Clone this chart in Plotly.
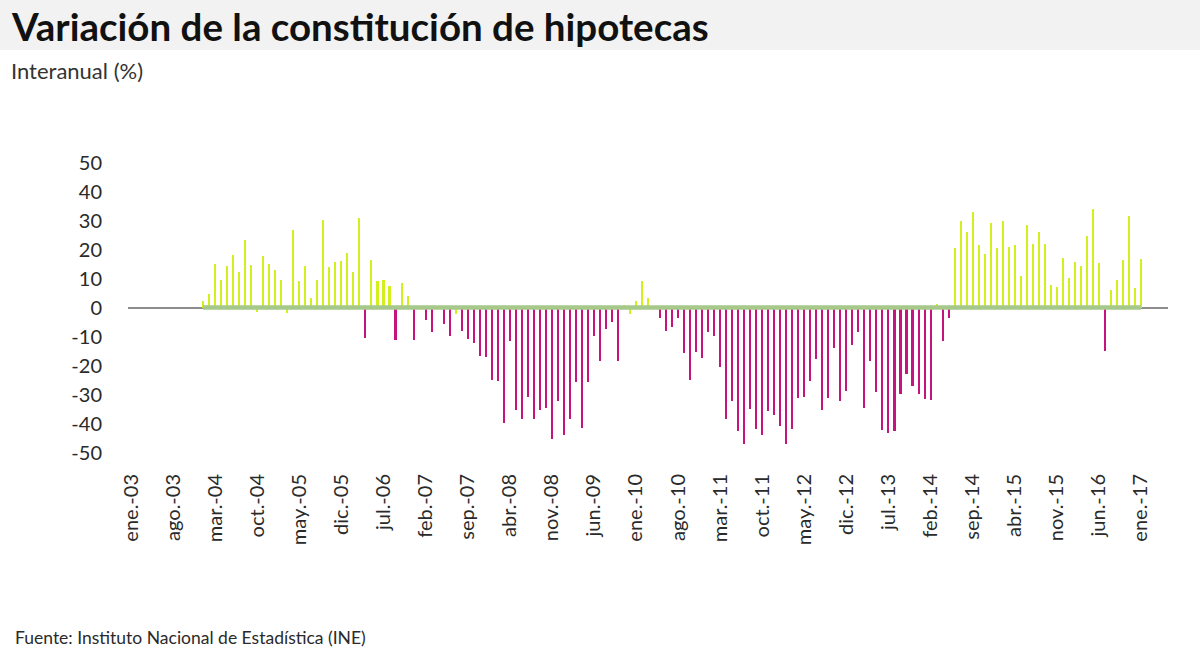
import plotly.graph_objects as go

# ---------------- data ----------------
tick_labels = ["ene.-03", "ago.-03", "mar.-04", "oct.-04", "may.-05", "dic.-05",
               "jul.-06", "feb.-07", "sep.-07", "abr.-08", "nov.-08", "jun.-09",
               "ene.-10", "ago.-10", "mar.-11", "oct.-11", "may.-12", "dic.-12",
               "jul.-13", "feb.-14", "sep.-14", "abr.-15", "nov.-15", "jun.-16",
               "ene.-17"]
tick_step_months = 7
y_tick_values = [50, 40, 30, 20, 10, 0, -10, -20, -30, -40, -50]
y_tick_labels = ["50", "40", "30", "20", "10", "0", "-10", "-20", "-30", "-40", "-50"]

first_month_index = 12  # ene.-04, counted in months from ene.-03
variacion = [
    2.2, 4.5, 15.0, 9.6, 14.2, 18.2, 12.3, 23.3, 14.7, -1.4,
    17.6, 15.0, 13.0, 9.6, -1.8, 26.8, 9.0, 14.4, 3.4, 9.4,
    30.3, 14.0, 15.6, 16.2, 18.8, 12.4, 30.7, -10.5, 16.4, 9.0,
    9.6, 7.3, -11.2, 8.5, 3.8, -11.2,
    0.0, -4.4, -8.5, 0.0, -5.7, -9.7, -2.3, -8.0, -10.9, -12.3,
    -16.6, -17.2, -24.9, -25.3, -39.7, -11.7, -35.2, -38.4, -30.7, -38.4,
    -35.2, -34.6, -45.2, -32.4, -44.1, -38.4, -25.8, -41.6, -25.8, -9.8,
    -18.3, -7.4, -4.9, -18.3, 1.0, -2.4, 2.2, 9.0, 3.3, 0.0,
    -3.5, -8.1, -6.7, -3.5, -15.7, -24.9, -15.3, -17.5, -8.3, -9.8,
    -20.6, -38.4, -32.4, -42.7, -47.2, -34.9, -42.0, -43.8, -35.8, -37.2,
    -41.0, -47.0, -42.0, -31.3, -30.7, -25.4, -17.7, -35.4, -31.3, -13.8,
    -32.1, -28.7, -13.0, -8.4, -34.7, -18.5, -29.2, -42.2, -43.3, -42.5,
    -29.8, -22.9, -27.2, -29.8, -31.5, -31.8, 1.2, -11.4, -3.5, 20.5,
    30.0, 25.9, 32.9, 21.4, 18.6, 29.3, 20.5, 30.0, 20.8, 21.6,
    11.0, 28.5, 22.0, 26.0, 22.0, 7.6, 7.0, 17.1, 10.2, 15.6,
    14.4, 24.5, 33.9, 15.2, -15.0, 6.1, 9.6, 16.4, 31.7, 6.8,
    16.7,
]

# ---------------- style ----------------
W, H = 1200, 672
ML, MR, MT, MB = 128, 32, 148, 205
COL_POS = "#d4ef1e"
COL_NEG = "#c7137d"
COL_BAND = "#a6c98b"
FONT = "Lato, 'Open Sans', sans-serif"

x_vals = [first_month_index + i for i in range(len(variacion))]
bar_colors = [COL_POS if v > -3 else COL_NEG for v in variacion]
tick_vals = [i * tick_step_months for i in range(len(tick_labels))]

pw = W - ML - MR
ph = H - MT - MB


def xp(px):
    return (px - ML) / pw


def yp(py):
    return (H - MB - py) / ph


fig = go.Figure()
fig.add_trace(go.Bar(
    x=x_vals, y=variacion, width=0.34,
    marker=dict(color=bar_colors, line=dict(width=0)),
    hovertemplate="%{y:.1f}%<extra></extra>",
    showlegend=False,
))
fig.add_trace(go.Scatter(
    x=[x_vals[0], x_vals[-1]], y=[0, 0], mode="lines",
    line=dict(color=COL_BAND, width=4.5),
    hoverinfo="skip", showlegend=False,
))

fig.update_layout(
    width=W, height=H,
    margin=dict(l=ML, r=MR, t=MT, b=MB, pad=0),
    paper_bgcolor="white", plot_bgcolor="white",
    font=dict(family=FONT, size=19, color="#2a2a2a"),
    bargap=0,
    xaxis=dict(
        range=[-0.5, 172.5], tickmode="array", tickvals=tick_vals,
        ticktext=tick_labels, tickangle=-90, showgrid=False, zeroline=False,
        showline=False, ticks="", ticklabelstandoff=2,
        tickfont=dict(family=FONT, size=20, color="#2a2a2a"),
    ),
    yaxis=dict(
        range=[-55, 55], tickmode="array", tickvals=y_tick_values,
        ticktext=y_tick_labels, showgrid=False, zeroline=True,
        zerolinecolor="#8c8c8c", zerolinewidth=1.5, showline=False,
        ticks="", ticklabelstandoff=25,
        tickfont=dict(family=FONT, size=20, color="#2a2a2a"),
    ),
    shapes=[dict(
        type="rect", xref="paper", yref="paper",
        x0=xp(0), x1=xp(W), y0=yp(50), y1=yp(0),
        fillcolor="#f2f2f2", line=dict(width=0), layer="below",
    )],
    annotations=[
        dict(text="<b>Variación de la constitución de hipotecas</b>",
             xref="paper", yref="paper", x=xp(9), y=yp(26),
             xanchor="left", yanchor="middle", showarrow=False,
             font=dict(family=FONT, size=38.5, color="#111111")),
        dict(text="Interanual (%)",
             xref="paper", yref="paper", x=xp(9), y=yp(70),
             xanchor="left", yanchor="middle", showarrow=False,
             font=dict(family=FONT, size=22, color="#333333")),
        dict(text="Fuente: Instituto Nacional de Estadística (INE)",
             xref="paper", yref="paper", x=xp(13), y=yp(637),
             xanchor="left", yanchor="middle", showarrow=False,
             font=dict(family=FONT, size=17.5, color="#2a2a2a")),
    ],
)

fig.write_html("out.html",
               config={"displayModeBar": False},
               post_script="document.body.style.margin='0px';document.body.style.overflow='hidden';")
